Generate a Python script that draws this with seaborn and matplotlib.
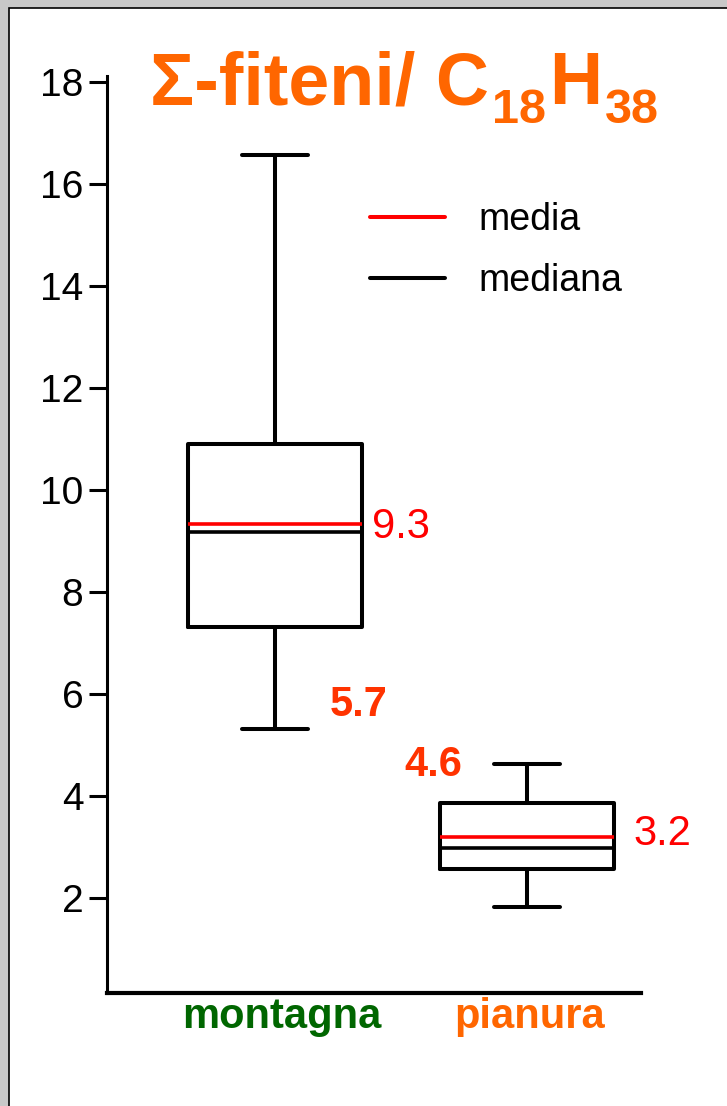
import numpy as np
import pandas as pd
import matplotlib
matplotlib.use("Agg")
import matplotlib.pyplot as plt
from matplotlib.lines import Line2D
from matplotlib.patches import Rectangle
import seaborn as sns

# ---- data (summary: min, Q1, median, Q3, max, mean) ----
sites = ["montagna", "pianura"]
site_colors = ["#006600", "#FF6600"]
# nine-value samples whose min / quartiles / max / mean reproduce the boxes
montagna = [5.3, 6.0, 7.3, 8.17, 9.17, 9.6, 10.9, 10.9, 16.56]
pianura = [1.81, 2.3, 2.56, 2.8, 2.97, 3.5, 3.85, 4.25, 4.62]
mean_labels = ["9.3", "3.2"]
low_label = "5.7"
high_label = "4.6"
low_label_y = 5.78
high_label_y = 4.6
yticks = [2, 4, 6, 8, 10, 12, 14, 16, 18]
title_parts = ["Σ-fiteni/ C", "18", "H", "38"]

df = pd.DataFrame({
    "sito": ["montagna"] * len(montagna) + ["pianura"] * len(pianura),
    "valore": montagna + pianura,
})

sns.set_style("white")
plt.rcParams["font.family"] = ["Liberation Sans", "DejaVu Sans"]
plt.rcParams["text.color"] = "black"
plt.rcParams["xtick.color"] = "black"
plt.rcParams["ytick.color"] = "black"
plt.rcParams["axes.labelcolor"] = "black"

W, H = 727, 1106
fig = plt.figure(figsize=(W / 100, H / 100), dpi=100, facecolor="#c8c8c8")
# white panel with black border on left/top
fig.patches.append(Rectangle((9 / W, -0.05), 1.2, 1.05 - 8 / H, transform=fig.transFigure,
                             facecolor="white", edgecolor="black", linewidth=1.2, zorder=-10))

ax = fig.add_axes([107 / W, 1 - 993 / H, (641 - 107) / W, (993 - 76) / H])
ax.set_facecolor("none")

sns.boxplot(data=df, x="sito", y="valore", order=sites, ax=ax,
            whis=(0, 100), fill=False, color="black", linewidth=2.9, width=0.69,
            showfliers=False, showmeans=True, meanline=True,
            meanprops={"color": "red", "linestyle": "-", "linewidth": 2.6},
            medianprops={"color": "black", "linewidth": 2.6},
            capwidths=0.26)

ax.set_xlim(-0.667, 1.452)
ax.set_ylim(0.13, 18.11)
ax.set_yticks(yticks)
ax.set_yticklabels([str(t) for t in yticks], fontsize=28, color="black")
ax.tick_params(axis="y", length=13, width=2.2, pad=4, color="black", direction="out", left=True)
ax.set_xticks([0, 1])
ax.set_xticklabels([])
ax.tick_params(axis="x", length=0)
ax.set_xlabel("")
ax.set_ylabel("")
for s in ["top", "right"]:
    ax.spines[s].set_visible(False)
ax.spines["left"].set_linewidth(2.2)
ax.spines["bottom"].set_linewidth(3.0)
ax.spines["left"].set_color("black")
ax.spines["bottom"].set_color("black")

# category labels
label_dx = [5, 2]
for i, (name, c, dx) in enumerate(zip(sites, site_colors, label_dx)):
    ax.annotate(name, xy=(i, 0), xycoords=("data", "axes fraction"),
                xytext=(dx, -3), textcoords="offset points", ha="center", va="top",
                fontsize=30, fontweight="bold", color=c)

# mean labels
means = [np.mean(montagna), np.mean(pianura)]
mean_dx = [7, 14]
mean_dy = [-2, 2]
for i, (m, t, dx, dy) in enumerate(zip(means, mean_labels, mean_dx, mean_dy)):
    ax.annotate(t, xy=(i + 0.345, m), xytext=(dx, dy), textcoords="offset points",
                ha="left", va="center", fontsize=30, color="#FF0000")
ax.text(0.218, low_label_y, low_label, ha="left", va="center", fontsize=30,
        fontweight="bold", color="#FF3300")
ax.text(1 - 0.257, high_label_y, high_label, ha="right", va="center", fontsize=30,
        fontweight="bold", color="#FF3300")

# legend
handles = [Line2D([], [], color="red", linewidth=2.9),
           Line2D([], [], color="black", linewidth=2.9)]
fig.legend(handles, ["media", "mediana"], loc="upper left",
           bbox_to_anchor=(370 / W, 1 - 202 / H), frameon=False, fontsize=27,
           borderpad=0, borderaxespad=0, handlelength=2.0, handletextpad=0.9,
           labelspacing=0.66)

# title built from pieces (main text + subscripts)
fig.canvas.draw()
renderer = fig.canvas.get_renderer()
x = 150 / W
base = 1 - 104 / H
sizes = [53, 35, 53, 35]
drops = [0, 19, 0, 19]
gaps = [3, 3, 3, 0]
for part, size, drop, gap in zip(title_parts, sizes, drops, gaps):
    t = fig.text(x, base - drop / H, part, ha="left", va="baseline",
                 fontsize=size, fontweight="bold", color="#FF6600")
    bb = t.get_window_extent(renderer=renderer)
    x = (bb.x1 + gap) / W

fig.savefig("out.png", dpi=100, facecolor=fig.get_facecolor())
